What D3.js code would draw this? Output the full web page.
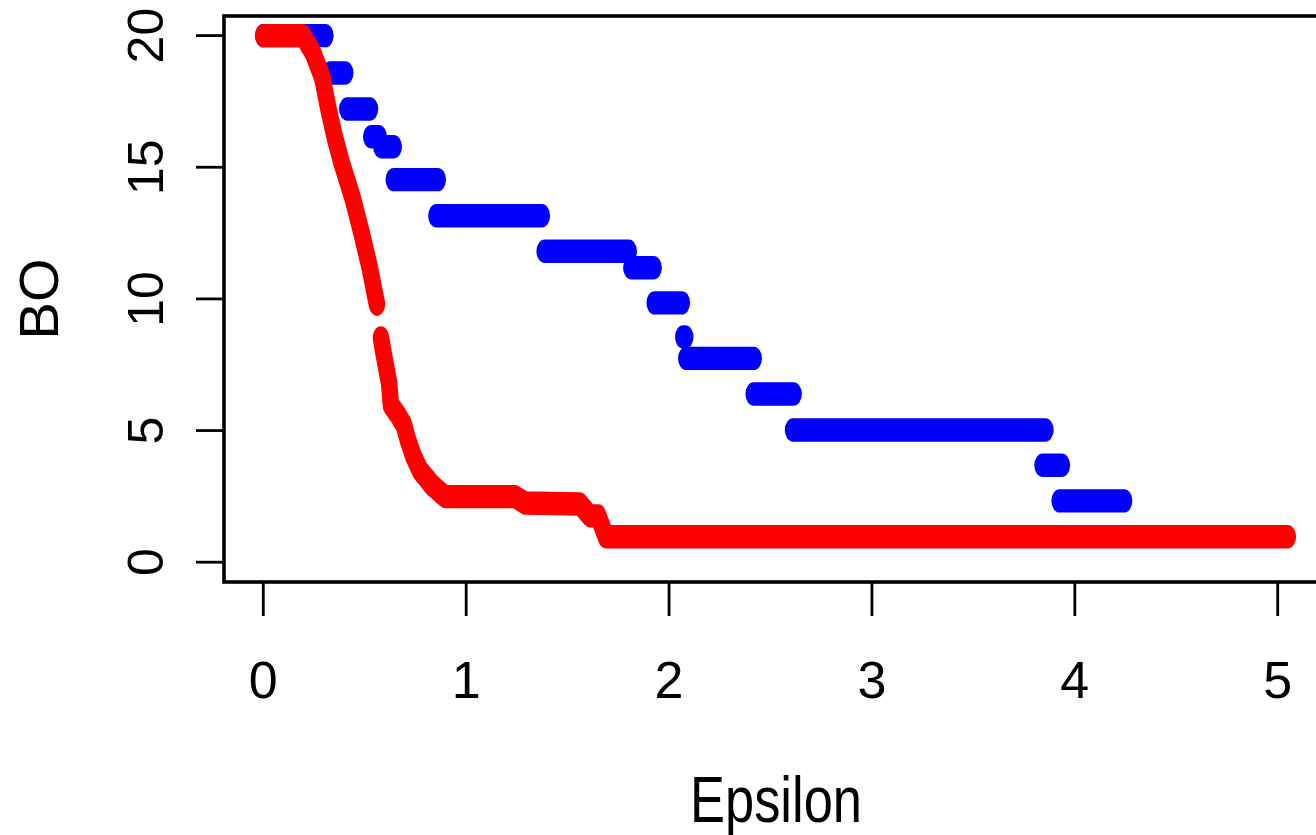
<!DOCTYPE html>
<html>
<head>
<meta charset="utf-8">
<script src="https://cdn.jsdelivr.net/npm/d3@7"></script>
<style>
  body { margin: 0; background: #fff; }
  text { font-family: "Liberation Sans", Arial, sans-serif; fill: #000; }
</style>
</head>
<body>
<script>
//////////////
/// DATA   ///
//////////////

// blue series: runs of equal BO over epsilon (start, end, value)
var blueStart = [0, 0.33, 0.414, 0.532, 0.582, 0.643, 0.853, 1.387, 1.814, 1.929, 2.07, 2.085, 2.417, 2.611, 3.841, 3.925];
var blueEnd   = [0.306, 0.404, 0.526, 0.569, 0.643, 0.86, 1.373, 1.801, 1.924, 2.063, 2.08, 2.417, 2.614, 3.855, 3.936, 4.243];
var blueBO    = [20, 18.58, 17.21, 16.16, 15.78, 14.53, 13.16, 11.81, 11.18, 9.85, 8.55, 7.74, 6.39, 5.02, 3.68, 2.33];

// red series: traced curve (null = break in the dots)
var redEps = [0, 0.196, 0.245, 0.290, 0.322, 0.352, 0.386, 0.440, 0.484, 0.524, 0.560, null,
              0.580, 0.590, 0.620, 0.629, 0.664, 0.693, 0.713, 0.738, 0.772, 0.832, 0.896,
              1.241, 1.290, 1.561, 1.610, 1.650, 1.689, 5.05];
var redBO  = [20, 20, 19.34, 18.43, 17.18, 16.15, 15.17, 13.84, 12.51, 11.21, 9.80, null,
              8.52, 8.06, 6.80, 5.97, 5.59, 5.21, 4.64, 4.07, 3.50, 2.93, 2.49,
              2.49, 2.25, 2.21, 1.76, 1.76, 0.97, 0.97];

var xTicks = [0, 1, 2, 3, 4, 5];
var yTicks = [0, 5, 10, 15, 20];

/////////////////
/// SETUP VIZ ///
/////////////////

var width = 1316, height = 835;
var box = {left: 224, top: 16, right: 1330, bottom: 582};

var x = d3.scaleLinear().domain([0, 5]).range([263.3, 1277.7]),
    y = d3.scaleLinear().domain([0, 20]).range([562.2, 35.6]);

// the dots are taller than wide, so the pen is drawn in a squashed group
var stretch = 1.42;

var svg = d3.select("body").append("svg")
    .attr("width", width)
    .attr("height", height);

var dots = svg.append("g")
    .attr("transform", "scale(1," + stretch + ")")
    .attr("fill", "none")
    .attr("stroke-width", 16.5)
    .attr("stroke-linecap", "round")
    .attr("stroke-linejoin", "round");

// blue runs
dots.selectAll(".blue")
    .data(blueBO)
    .enter()
    .append("path")
    .attr("class", "blue")
    .attr("stroke", "#0000ff")
    .attr("d", function(d, i) {
      return "M" + x(blueStart[i]) + "," + y(d) / stretch +
             "L" + x(blueEnd[i]) + "," + y(d) / stretch;
    });

// red curve on top
var redLine = d3.line()
    .defined(function(d) { return d[0] !== null; })
    .x(function(d) { return x(d[0]); })
    .y(function(d) { return y(d[1]) / stretch; });

dots.append("path")
    .attr("stroke", "#ff0000")
    .attr("d", redLine(d3.zip(redEps, redBO)));

// plot box
svg.append("rect")
    .attr("x", box.left)
    .attr("y", box.top)
    .attr("width", box.right - box.left)
    .attr("height", box.bottom - box.top)
    .attr("fill", "none")
    .attr("stroke", "#000")
    .attr("stroke-width", 3.6);

// x axis ticks + labels
var xAxis = svg.append("g");
xAxis.selectAll("line")
    .data(xTicks)
    .enter()
    .append("line")
    .attr("x1", function(d) { return x(d); })
    .attr("x2", function(d) { return x(d); })
    .attr("y1", box.bottom)
    .attr("y2", 616)
    .attr("stroke", "#000")
    .attr("stroke-width", 2.8);

xAxis.selectAll("text")
    .data(xTicks)
    .enter()
    .append("text")
    .attr("x", function(d) { return x(d); })
    .attr("y", 698)
    .attr("text-anchor", "middle")
    .style("font-size", "52px")
    .text(function(d) { return d; });

// y axis ticks + rotated labels
var yAxis = svg.append("g");
yAxis.selectAll("line")
    .data(yTicks)
    .enter()
    .append("line")
    .attr("x1", 196)
    .attr("x2", box.left)
    .attr("y1", function(d) { return y(d); })
    .attr("y2", function(d) { return y(d); })
    .attr("stroke", "#000")
    .attr("stroke-width", 2.8);

yAxis.selectAll("text")
    .data(yTicks)
    .enter()
    .append("text")
    .attr("transform", function(d) { return "translate(162.5," + y(d) + ") rotate(-90)"; })
    .attr("text-anchor", "middle")
    .style("font-size", "50px")
    .text(function(d) { return d; });

// axis titles
svg.append("text")
    .attr("transform", "translate(776,822) scale(0.82,1)")
    .attr("text-anchor", "middle")
    .style("font-size", "64px")
    .text("Epsilon");

svg.append("text")
    .attr("transform", "translate(58," + ((box.top + box.bottom) / 2) + ") rotate(-90)")
    .attr("text-anchor", "middle")
    .style("font-size", "56px")
    .text("BO");
</script>
</body>
</html>
